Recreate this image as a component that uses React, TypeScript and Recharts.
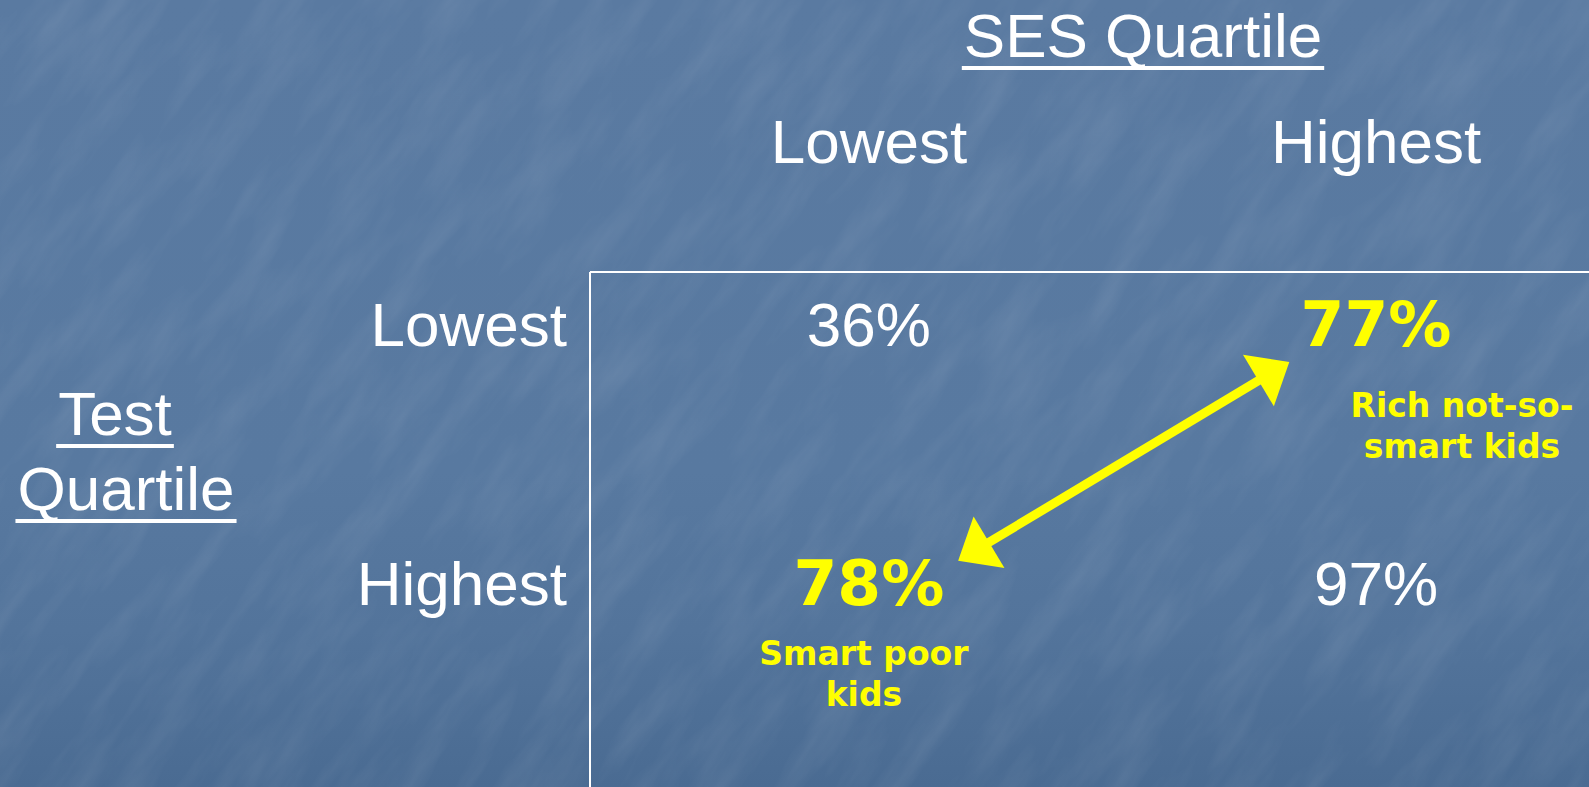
import { useLayoutEffect, useRef, useState } from 'react'
import { ScatterChart, Scatter, XAxis, YAxis, ReferenceLine, Label } from 'recharts'

// SES quartile across, test quartile down
const SES_QUARTILES = ['Lowest', 'Highest']
const TEST_QUARTILES = ['Lowest', 'Highest']

// one entry per table cell
const CELL_SES = [0, 1, 0, 1]
const CELL_TEST = [0, 0, 1, 1]
const CELL_SHARE = [36, 77, 78, 97]
const CELL_HIGHLIGHT = [false, true, true, false]
const CELL_NOTE = [[], ['Rich not-so-', 'smart kids'], ['Smart poor', 'kids'], []]

// arrow between the two highlighted cells (axis units)
const ARROW_FROM = { ses: 0.176, test: 0.916 }
const ARROW_TO = { ses: 0.829, test: 0.148 }

const WIDTH = 1589
const HEIGHT = 787
const WHITE = '#ffffff'
const YELLOW = '#ffff00'
const FONT = '"Liberation Sans", Arial, sans-serif'
const BOLD_FONT = '"DejaVu Sans", Verdana, sans-serif'

// where each note sits relative to its value
const NOTE_OFFSET = [null, { dx: 86, dy: 71 }, { dx: -5, dy: 60 }, null]

const cells = CELL_SHARE.map((share, i) => ({
  ses: CELL_SES[i],
  test: CELL_TEST[i],
  share,
  highlight: CELL_HIGHLIGHT[i],
  note: CELL_NOTE[i],
  idx: i,
}))

function CellText(props: any) {
  const { cx, cy, payload } = props
  const hi = payload.highlight
  const off = NOTE_OFFSET[payload.idx]
  return (
    <g>
      <text
        x={cx}
        y={cy + 22}
        textAnchor="middle"
        fill={hi ? YELLOW : WHITE}
        fontFamily={hi ? BOLD_FONT : FONT}
        fontWeight={hi ? 700 : 400}
        fontSize={hi ? 63 : 62}
      >
        {payload.share}%
      </text>
      {off &&
        payload.note.map((line: string, k: number) => (
          <text
            key={k}
            x={cx + off.dx}
            y={cy + 22 + off.dy + k * 41}
            textAnchor="middle"
            fill={YELLOW}
            fontFamily={BOLD_FONT}
            fontWeight={700}
            fontSize={33}
          >
            {line}
          </text>
        ))}
    </g>
  )
}

function ColTick(props: any) {
  const { x, y, payload } = props
  return (
    <text x={x} y={y} textAnchor="middle" fill={WHITE} fontFamily={FONT} fontSize={62}>
      {SES_QUARTILES[payload.value]}
    </text>
  )
}

function RowTick(props: any) {
  const { x, y, payload } = props
  return (
    <text x={x} y={y + 22} textAnchor="end" fill={WHITE} fontFamily={FONT} fontSize={62}>
      {TEST_QUARTILES[payload.value]}
    </text>
  )
}

// centred text with a solid underline under its measured width
function Underlined({ x, y, children }: { x: number; y: number; children: string }) {
  const ref = useRef<SVGTextElement>(null)
  const [w, setW] = useState(0)
  useLayoutEffect(() => {
    if (ref.current) setW(ref.current.getComputedTextLength())
  }, [children])
  return (
    <g>
      <text ref={ref} x={x} y={y} textAnchor="middle" fill={WHITE} fontFamily={FONT} fontSize={62}>
        {children}
      </text>
      {w > 0 && <rect x={x - w / 2 - 2} y={y + 9} width={w + 4} height={4} fill={WHITE} />}
    </g>
  )
}

function SesTitle(props: any) {
  const vb = props.viewBox ?? { x: 590, y: 0 }
  return (
    <Underlined x={vb.x + 553} y={vb.y + 57}>
      SES Quartile
    </Underlined>
  )
}

function TestTitle(props: any) {
  const vb = props.viewBox ?? { x: 0, y: 272 }
  return (
    <g>
      <Underlined x={vb.x + 115} y={vb.y + 163}>
        Test
      </Underlined>
      <Underlined x={vb.x + 126} y={vb.y + 238}>
        Quartile
      </Underlined>
    </g>
  )
}

function DoubleArrow(props: any) {
  const { x1, y1, x2, y2 } = props
  const len = Math.hypot(x2 - x1, y2 - y1)
  const ux = (x2 - x1) / len
  const uy = (y2 - y1) / len
  const nx = -uy
  const ny = ux
  const head = 36
  const half = 30
  const tri = (tx: number, ty: number, dir: number) => {
    const bx = tx - dir * ux * head
    const by = ty - dir * uy * head
    return `${tx},${ty} ${bx + nx * half},${by + ny * half} ${bx - nx * half},${by - ny * half}`
  }
  return (
    <g>
      <line
        x1={x1 + ux * head * 0.6}
        y1={y1 + uy * head * 0.6}
        x2={x2 - ux * head * 0.6}
        y2={y2 - uy * head * 0.6}
        stroke={YELLOW}
        strokeWidth={9}
      />
      <polygon points={tri(x2, y2, 1)} fill={YELLOW} />
      <polygon points={tri(x1, y1, -1)} fill={YELLOW} />
    </g>
  )
}

function Backdrop() {
  // faint mottled streaks like the slide's marbled background
  return (
    <svg width={WIDTH} height={HEIGHT} style={{ position: 'absolute', left: 0, top: 0 }}>
      <defs>
        <filter id="marble" x="0" y="0" width="100%" height="100%">
          <feTurbulence type="fractalNoise" baseFrequency="0.008 0.035" numOctaves={4} seed={3} />
          <feColorMatrix
            type="matrix"
            values="0 0 0 0 1  0 0 0 0 1  0 0 0 0 1  0 0 0 0.9 -0.36"
          />
        </filter>
      </defs>
      <g transform={`rotate(-55 ${WIDTH / 2} ${HEIGHT / 2})`}>
        <rect
          x={-600}
          y={-600}
          width={WIDTH + 1200}
          height={HEIGHT + 1200}
          filter="url(#marble)"
          opacity={0.16}
        />
      </g>
    </svg>
  )
}

export default function App() {
  return (
    <div
      style={{
        position: 'absolute',
        left: 0,
        top: 0,
        width: WIDTH,
        height: HEIGHT,
        background: 'linear-gradient(180deg, #5a7aa1 0%, #5879a0 60%, #53749b 80%, #4a6b92 100%)',
      }}
    >
      <Backdrop />
      <div style={{ position: 'absolute', left: 0, top: 0 }}>
        <ScatterChart width={WIDTH} height={HEIGHT} margin={{ top: 0, right: 0, bottom: 0, left: 0 }}>
          <XAxis
            type="number"
            dataKey="ses"
            orientation="top"
            height={272}
            domain={[-0.55, 1.42]}
            ticks={[0, 1]}
            interval={0}
            allowDataOverflow
            tickSize={0}
            tickMargin={109}
            tickLine={false}
            axisLine={{ stroke: WHITE, strokeWidth: 2 }}
            tick={<ColTick />}
          >
            <Label content={<SesTitle />} />
          </XAxis>
          <YAxis
            type="number"
            dataKey="test"
            reversed
            width={590}
            domain={[-0.2, 1.79]}
            ticks={[0, 1]}
            interval={0}
            allowDataOverflow
            tickSize={0}
            tickMargin={23}
            tickLine={false}
            axisLine={{ stroke: WHITE, strokeWidth: 2 }}
            tick={<RowTick />}
          >
            <Label content={<TestTitle />} />
          </YAxis>
          <Scatter data={cells} shape={<CellText />} isAnimationActive={false} />
          <ReferenceLine
            segment={[
              { x: ARROW_FROM.ses, y: ARROW_FROM.test },
              { x: ARROW_TO.ses, y: ARROW_TO.test },
            ]}
            shape={<DoubleArrow />}
          />
        </ScatterChart>
      </div>
    </div>
  )
}
